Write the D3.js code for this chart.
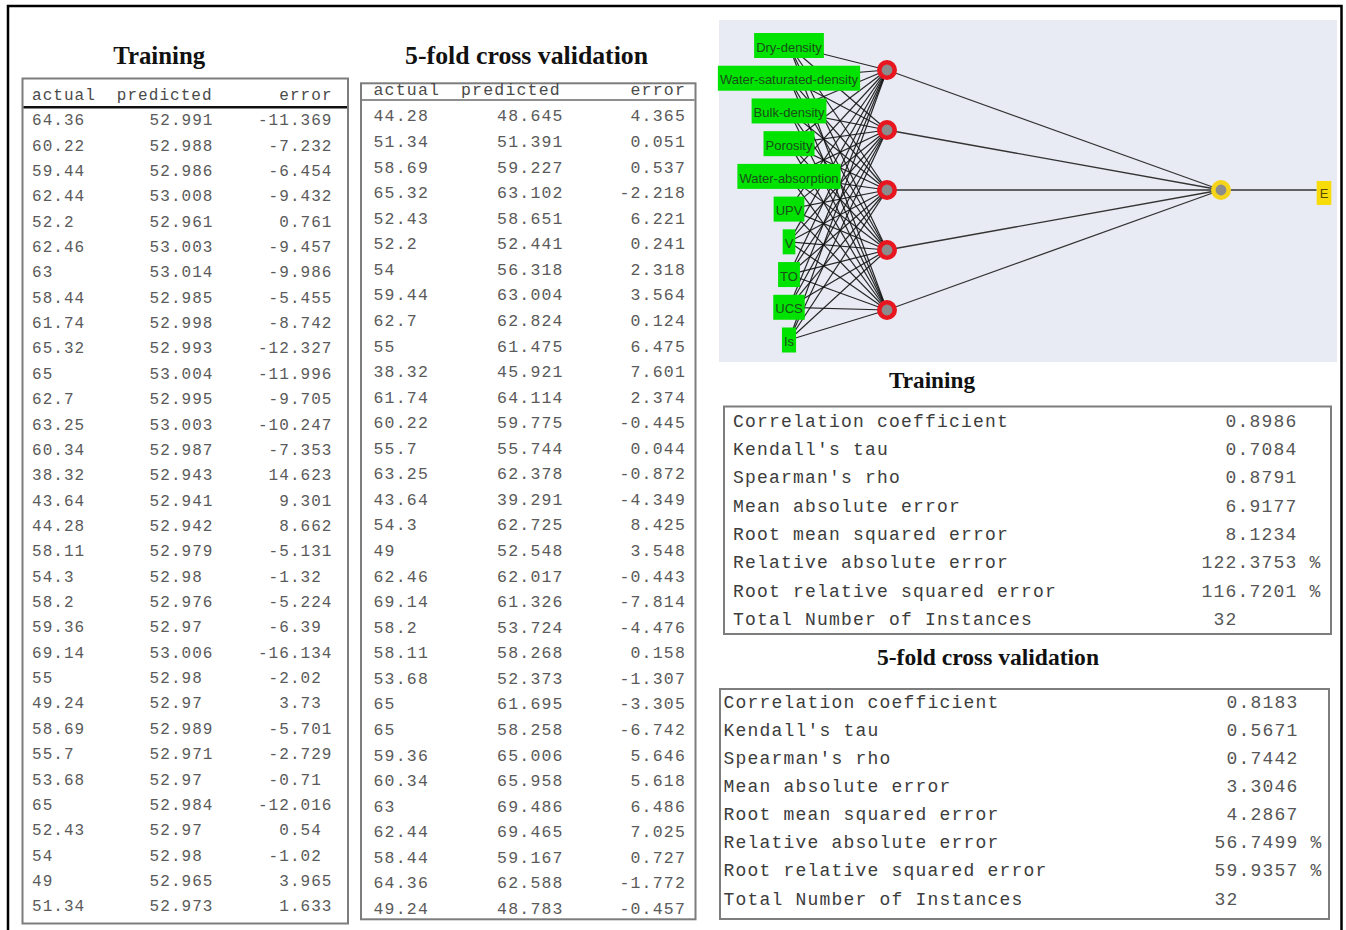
<!DOCTYPE html>
<html>
<head>
<meta charset="utf-8">
<script src="https://cdn.jsdelivr.net/npm/d3@7"></script>
<style>
  body { margin: 0; background: #fff; }
  svg { display: block; }
</style>
</head>
<body>
<svg id="fig" width="1346" height="930"></svg>
<script>
// ---- Prediction tables -------------------------------------------------
const tableColumns = ["actual", "predicted", "error"];

const trainActual = [64.36, 60.22, 59.44, 62.44, 52.2, 62.46, 63, 58.44, 61.74, 65.32, 65, 62.7, 63.25, 60.34, 38.32, 43.64,
  44.28, 58.11, 54.3, 58.2, 59.36, 69.14, 55, 49.24, 58.69, 55.7, 53.68, 65, 52.43, 54, 49, 51.34];
const trainPredicted = [52.991, 52.988, 52.986, 53.008, 52.961, 53.003, 53.014, 52.985, 52.998, 52.993, 53.004, 52.995, 53.003, 52.987, 52.943, 52.941,
  52.942, 52.979, 52.98, 52.976, 52.97, 53.006, 52.98, 52.97, 52.989, 52.971, 52.97, 52.984, 52.97, 52.98, 52.965, 52.973];
const trainError = [-11.369, -7.232, -6.454, -9.432, 0.761, -9.457, -9.986, -5.455, -8.742, -12.327, -11.996, -9.705, -10.247, -7.353, 14.623, 9.301,
  8.662, -5.131, -1.32, -5.224, -6.39, -16.134, -2.02, 3.73, -5.701, -2.729, -0.71, -12.016, 0.54, -1.02, 3.965, 1.633];

const cvActual = [44.28, 51.34, 58.69, 65.32, 52.43, 52.2, 54, 59.44, 62.7, 55, 38.32, 61.74, 60.22, 55.7, 63.25, 43.64,
  54.3, 49, 62.46, 69.14, 58.2, 58.11, 53.68, 65, 65, 59.36, 60.34, 63, 62.44, 58.44, 64.36, 49.24];
const cvPredicted = [48.645, 51.391, 59.227, 63.102, 58.651, 52.441, 56.318, 63.004, 62.824, 61.475, 45.921, 64.114, 59.775, 55.744, 62.378, 39.291,
  62.725, 52.548, 62.017, 61.326, 53.724, 58.268, 52.373, 61.695, 58.258, 65.006, 65.958, 69.486, 69.465, 59.167, 62.588, 48.783];
const cvError = [4.365, 0.051, 0.537, -2.218, 6.221, 0.241, 2.318, 3.564, 0.124, 6.475, 7.601, 2.374, -0.445, 0.044, -0.872, -4.349,
  8.425, 3.548, -0.443, -7.814, -4.476, 0.158, -1.307, -3.305, -6.742, 5.646, 5.618, 6.486, 7.025, 0.727, -1.772, -0.457];

// ---- Summary statistics ------------------------------------------------
const statLabels = ["Correlation coefficient", "Kendall's tau", "Spearman's rho", "Mean absolute error",
  "Root mean squared error", "Relative absolute error", "Root relative squared error", "Total Number of Instances"];
const statUnits = ["", "", "", "", "", "%", "%", ""];
const trainStats = [0.8986, 0.7084, 0.8791, 6.9177, 8.1234, 122.3753, 116.7201, 32];
const cvStats = [0.8183, 0.5671, 0.7442, 3.3046, 4.2867, 56.7499, 59.9357, 32];

// ---- Network structure -------------------------------------------------
const inputNames = ["Dry-density", "Water-saturated-density", "Bulk-density", "Porosity", "Water-absorption",
  "UPV", "V", "TO", "UCS", "Is"];
const hiddenNodes = [0, 1, 2, 3, 4];
const outputName = "E";

const MONO = "'Liberation Mono','DejaVu Sans Mono',monospace";
const SERIF = "'Liberation Serif','Times New Roman',serif";
const SANS = "'Liberation Sans',Arial,sans-serif";

const svg = d3.select("#fig");
svg.append("rect").attr("width", 1346).attr("height", 930).attr("fill", "#fff");

// x of a string so its decimal point (or its end, if it has none) sits at dotX
function dotAligned(str, dotX, adv) {
  const i = str.indexOf(".");
  return dotX - (i >= 0 ? i : str.length) * adv;
}

function title(text, cx, baseline, size, len) {
  svg.append("text")
    .attr("x", cx).attr("y", baseline)
    .attr("text-anchor", "middle")
    .attr("textLength", len).attr("lengthAdjust", "spacingAndGlyphs")
    .style("font-family", SERIF).style("font-weight", "bold")
    .style("font-size", size + "px").attr("fill", "#111")
    .text(text);
}

// ---- Actual / predicted / error table ---------------------------------
function predictionTable(c) {
  const g = svg.append("g");
  const ls = c.adv - 0.6 * c.fs;
  g.append("rect")
    .attr("x", c.box[0]).attr("y", c.box[1]).attr("width", c.box[2]).attr("height", c.box[3])
    .attr("fill", "#fff").attr("stroke", "#7d7d7d").attr("stroke-width", 2);
  g.append("line")
    .attr("x1", c.box[0] + 1).attr("x2", c.box[0] + c.box[2] - 1)
    .attr("y1", c.sepY).attr("y2", c.sepY)
    .attr("stroke", c.sepColor).attr("stroke-width", c.sepWidth);

  const headX = [c.actualX, c.predHeadX, c.errHeadX];
  g.selectAll("text.head").data(tableColumns).join("text")
    .attr("class", "head")
    .attr("x", (d, i) => headX[i]).attr("y", c.headBase)
    .style("font-family", MONO).style("font-size", c.fs + "px").style("letter-spacing", ls + "px")
    .attr("fill", "#4a4a4a")
    .text(d => d);

  const y = d3.scalePoint().domain(d3.range(c.actual.length)).range(c.rowRange);
  const rows = g.selectAll("g.row").data(c.actual.map((a, i) => ({ a, p: c.predicted[i], e: c.error[i], i })))
    .join("g").attr("class", "row")
    .attr("transform", d => `translate(0,${y(d.i) + c.fs * 0.33})`)
    .style("font-family", MONO).style("font-size", c.fs + "px").style("letter-spacing", ls + "px")
    .attr("fill", "#5a5a5a");
  rows.append("text").attr("x", c.actualX).text(d => String(d.a));
  rows.append("text").attr("x", d => dotAligned(String(d.p), c.predDot, c.adv)).text(d => String(d.p));
  rows.append("text").attr("x", d => dotAligned(String(d.e), c.errDot, c.adv)).text(d => String(d.e));
}

predictionTable({
  box: [22.5, 78.5, 325.5, 845], sepY: 107.2, sepColor: "#111", sepWidth: 2.6,
  headBase: 100, fs: 16, adv: 10.65,
  actualX: 32, predHeadX: 116.8, errHeadX: 279.3,
  predDot: 170.9, errDot: 289.9, rowRange: [120, 906],
  actual: trainActual, predicted: trainPredicted, error: trainError
});
predictionTable({
  box: [361, 83.3, 334.5, 836], sepY: 100, sepColor: "#6a6a6a", sepWidth: 1.6,
  headBase: 94.5, fs: 16.5, adv: 11.1,
  actualX: 373.5, predHeadX: 461, errHeadX: 630.5,
  predDot: 519.3, errDot: 641.6, rowRange: [116, 908.5],
  actual: cvActual, predicted: cvPredicted, error: cvError
});

title("Training", 159.2, 64, 25, 92);
title("5-fold cross validation", 526.6, 63.5, 25, 243);

// ---- Summary statistics boxes -----------------------------------------
function statsTable(c) {
  const g = svg.append("g");
  const fs = 18, adv = 12, ls = adv - 0.6 * fs;
  g.append("rect")
    .attr("x", c.box[0]).attr("y", c.box[1]).attr("width", c.box[2]).attr("height", c.box[3])
    .attr("fill", "#fff").attr("stroke", "#7d7d7d").attr("stroke-width", 2);
  const y = d3.scalePoint().domain(statLabels).range(c.rowRange);
  const rows = g.selectAll("g.stat").data(statLabels.map((l, i) => ({ l, v: String(c.values[i]), u: statUnits[i] })))
    .join("g").attr("class", "stat")
    .attr("transform", d => `translate(0,${y(d.l) + 5.5})`)
    .style("font-family", MONO).style("font-size", fs + "px").style("letter-spacing", ls + "px");
  rows.append("text").attr("x", c.labelX).attr("fill", "#3c3c3c").text(d => d.l);
  rows.append("text").attr("x", d => dotAligned(d.v, c.dotX, adv)).attr("fill", "#555").text(d => d.v);
  rows.filter(d => d.u).append("text")
    .attr("x", d => dotAligned(d.v, c.dotX, adv) + (d.v.length + 1) * adv)
    .attr("fill", "#555").text(d => d.u);
}

title("Training", 932, 388, 24, 86);
statsTable({ box: [724, 406.5, 607, 227.5], rowRange: [421, 619.5], labelX: 733, dotX: 1237.5, values: trainStats });
title("5-fold cross validation", 988, 665, 24, 222);
statsTable({ box: [720, 689, 609, 230], rowRange: [702, 899], labelX: 723.5, dotX: 1238.5, values: cvStats });

// ---- Network diagram ---------------------------------------------------
const net = svg.append("g");
net.append("rect").attr("x", 719).attr("y", 20).attr("width", 618).attr("height", 342).attr("fill", "#e8ebf3");

const inX = 789, hidX = 887, outX = 1221, outY = 190;
const yIn = d3.scalePoint().domain(inputNames).range([45.5, 340]);
const yHid = d3.scalePoint().domain(hiddenNodes).range([70, 310]);

// weights: every input feeds every hidden node
const links = inputNames.flatMap(n => hiddenNodes.map(h => ({ n, h })));
net.selectAll("line.w1").data(links).join("line")
  .attr("class", "w1")
  .attr("x1", inX).attr("y1", d => yIn(d.n))
  .attr("x2", hidX).attr("y2", d => yHid(d.h))
  .attr("stroke", "#111").attr("stroke-width", 1.2).attr("stroke-opacity", 0.9);

net.selectAll("line.w2").data(hiddenNodes).join("line")
  .attr("class", "w2")
  .attr("x1", hidX).attr("y1", d => yHid(d))
  .attr("x2", outX).attr("y2", outY)
  .attr("stroke", "#333").attr("stroke-width", 1.3);

// output label
const outLabel = net.append("g");
const outText = outLabel.append("text")
  .attr("x", 1324).attr("y", 193).attr("text-anchor", "middle").attr("dy", "0.36em")
  .style("font-family", SANS).style("font-size", "13px").attr("fill", "#5a4a00")
  .text(outputName);
const ow = outText.node().getComputedTextLength() + 6;
net.insert("line", "g")
  .attr("x1", outX).attr("x2", 1324 - ow / 2).attr("y1", outY).attr("y2", outY)
  .attr("stroke", "#333").attr("stroke-width", 1.3);
outLabel.insert("rect", "text")
  .attr("x", 1324 - ow / 2).attr("y", 181).attr("width", ow).attr("height", 24)
  .attr("fill", "#f7dc0a");

// input labels drawn over the weight lines
const inputs = net.selectAll("g.in").data(inputNames).join("g").attr("class", "in");
inputs.append("text")
  .attr("x", inX).attr("y", d => yIn(d) + 1.5).attr("dy", "0.36em")
  .attr("text-anchor", "middle")
  .style("font-family", SANS).style("font-size", "13px").attr("fill", "#1a4f1a")
  .text(d => d);
inputs.each(function () {
  const t = d3.select(this).select("text");
  const w = t.node().getComputedTextLength() + 4;
  d3.select(this).insert("rect", "text")
    .attr("x", inX - w / 2).attr("y", d => yIn(d) - 12.5)
    .attr("width", w).attr("height", 25)
    .attr("fill", "#00e200");
});

net.selectAll("circle.hid").data(hiddenNodes).join("circle")
  .attr("class", "hid")
  .attr("cx", hidX).attr("cy", d => yHid(d)).attr("r", 7.7)
  .attr("fill", "#8c8c8c").attr("stroke", "#e8161e").attr("stroke-width", 4.6);

net.append("circle")
  .attr("cx", outX).attr("cy", outY).attr("r", 7.7)
  .attr("fill", "#8c8c8c").attr("stroke", "#f6d41c").attr("stroke-width", 4.6);

// ---- Outer frame -------------------------------------------------------
svg.append("rect")
  .attr("x", 8).attr("y", 6).attr("width", 1333.5).attr("height", 950)
  .attr("fill", "none").attr("stroke", "#000").attr("stroke-width", 2.5);
</script>
</body>
</html>
